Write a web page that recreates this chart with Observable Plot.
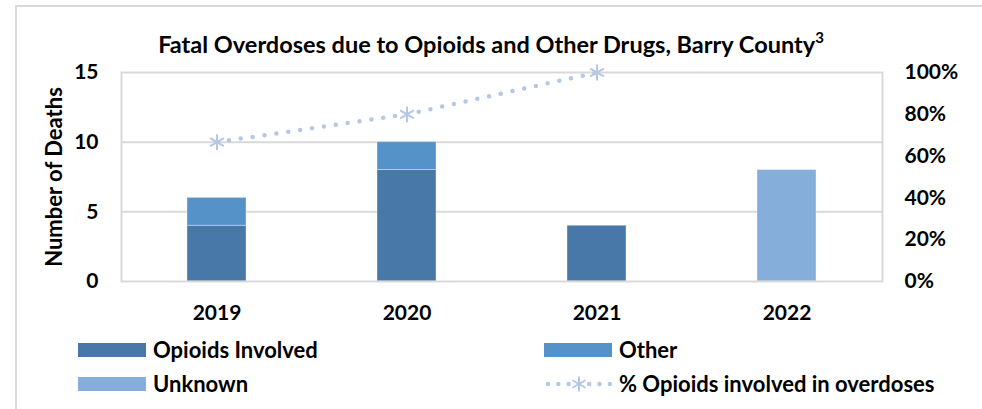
<!DOCTYPE html>
<html>
<head>
<meta charset="utf-8">
<script src="https://cdn.jsdelivr.net/npm/d3@7"></script>
<script src="https://cdn.jsdelivr.net/npm/@observablehq/plot@0.6"></script>
<style>
  html, body { margin: 0; padding: 0; background: #fff; }
  body { width: 982px; height: 409px; overflow: hidden; position: relative; font-family: Lato, "Open Sans", sans-serif; font-weight: 700; color: #000; }
  #frame { position: absolute; left: 15px; top: 5px; width: 1000px; height: 500px; border-left: 2px solid #d9d9d9; border-top: 2px solid #d9d9d9; }
  #title { position: absolute; left: 0; width: 982px; top: 29px; text-align: center; font-size: 23.5px; line-height: 30px; }
  #title sup { font-size: 15px; vertical-align: 0; position: relative; top: -10px; }
  #chart { position: absolute; left: 0; top: 40px; }
  #ylabel { position: absolute; left: 53px; top: 177px; transform: translate(-50%, -50%) rotate(-90deg); white-space: nowrap; font-size: 22px; }
  .lg { position: absolute; font-size: 22px; line-height: 24px; white-space: nowrap; }
  .sw { position: absolute; width: 68px; height: 14px; }
</style>
</head>
<body>
<div id="frame"></div>
<div id="title">Fatal Overdoses due to Opioids and Other Drugs, Barry County<sup>3</sup></div>
<div id="ylabel">Number of Deaths</div>
<div id="chart"></div>
<div id="legend"></div>
<script>
// ---- data ----
const years = ["2019", "2020", "2021", "2022"];
const opioids = [4, 8, 4, 0];
const other = [2, 2, 0, 0];
const unknown = [0, 0, 0, 8];
const pctOpioids = [66.7, 80, 100, null];
const leftTicks = [0, 5, 10, 15];
const pctTicks = [0, 20, 40, 60, 80, 100];
const seriesNames = ["Opioids Involved", "Other", "Unknown"];
const seriesColors = ["#4878a8", "#5592c8", "#86aedb"];
const lineName = "% Opioids involved in overdoses";
const lineColor = "#b4c7e7";

const yMax = 15;
const rows = [];
years.forEach((y, i) => {
  rows.push({year: y, type: seriesNames[0], value: opioids[i]});
  rows.push({year: y, type: seriesNames[1], value: other[i]});
  rows.push({year: y, type: seriesNames[2], value: unknown[i]});
});
const pctRows = years.map((y, i) => ({year: y, pct: pctOpioids[i]})).filter(d => d.pct != null);
const toY = p => p / 100 * yMax;

const chart = Plot.plot({
  width: 982,
  height: 290,
  marginTop: 32,
  marginBottom: 49,
  marginLeft: 121,
  marginRight: 100,
  style: {fontFamily: "Lato, 'Open Sans', sans-serif", fontSize: "21px", fontWeight: 700, color: "#000", background: "transparent", overflow: "visible"},
  x: {domain: years, type: "band", paddingInner: 0.69, paddingOuter: 0.345, label: null},
  y: {domain: [0, yMax], label: null},
  color: {domain: seriesNames, range: seriesColors},
  marks: [
    Plot.ruleY([5, 10], {stroke: "#d9d9d9", strokeWidth: 2}),
    Plot.barY(rows, Plot.stackY({order: seriesNames, x: "year", y: "value", fill: "type", stroke: "#ffffff", strokeOpacity: 0.35, strokeWidth: 1})),
    Plot.frame({stroke: "#d9d9d9", strokeWidth: 2}),
    Plot.line(pctRows, {x: "year", y: d => toY(d.pct), stroke: lineColor, strokeWidth: 4.5, strokeDasharray: "0 12", strokeLinecap: "round"}),
    Plot.dot(pctRows, {x: "year", y: d => toY(d.pct), symbol: "asterisk", r: 7.5, stroke: lineColor, strokeWidth: 2}),
    Plot.axisY({anchor: "left", ticks: leftTicks, tickSize: 0, tickPadding: 23, label: null, fill: "#000"}),
    Plot.axisY({anchor: "right", ticks: pctTicks.map(toY), tickFormat: d => Math.round(d / yMax * 100) + "%", tickSize: 0, tickPadding: 22, label: null, fill: "#000"}),
    Plot.axisX({anchor: "bottom", tickSize: 0, tickPadding: 24, label: null, fill: "#000"})
  ]
});
document.getElementById("chart").appendChild(chart);

// ---- legend ----
const legend = document.getElementById("legend");
const items = [
  {kind: "bar", name: seriesNames[0], color: seriesColors[0], x: 78, y: 343},
  {kind: "bar", name: seriesNames[1], color: seriesColors[1], x: 544, y: 343},
  {kind: "bar", name: seriesNames[2], color: seriesColors[2], x: 78, y: 377},
  {kind: "line", name: lineName, color: lineColor, x: 544, y: 377}
];
items.forEach(it => {
  if (it.kind === "bar") {
    const s = document.createElement("div");
    s.className = "sw";
    s.style.left = it.x + "px"; s.style.top = it.y + "px"; s.style.background = it.color;
    legend.appendChild(s);
  } else {
    const ns = "http://www.w3.org/2000/svg";
    const svg = document.createElementNS(ns, "svg");
    svg.setAttribute("width", 70); svg.setAttribute("height", 20);
    svg.style.position = "absolute"; svg.style.left = it.x + "px"; svg.style.top = (it.y - 3) + "px";
    const l = document.createElementNS(ns, "line");
    l.setAttribute("x1", 4); l.setAttribute("x2", 66); l.setAttribute("y1", 10); l.setAttribute("y2", 10);
    l.setAttribute("stroke", it.color); l.setAttribute("stroke-width", 4.5);
    l.setAttribute("stroke-dasharray", "0 10.3"); l.setAttribute("stroke-linecap", "round");
    svg.appendChild(l);
    const g = document.createElementNS(ns, "path");
    const r = 7.5, c = 35, cy = 10;
    let d = "";
    for (let k = 0; k < 3; k++) {
      const a = Math.PI / 2 + k * Math.PI / 3;
      d += `M${c + r * Math.cos(a)},${cy + r * Math.sin(a)}L${c - r * Math.cos(a)},${cy - r * Math.sin(a)}`;
    }
    g.setAttribute("d", d); g.setAttribute("stroke", it.color); g.setAttribute("stroke-width", 2);
    svg.appendChild(g);
    legend.appendChild(svg);
  }
  const t = document.createElement("div");
  t.className = "lg";
  t.textContent = it.name;
  t.style.left = (it.x + 75) + "px";
  t.style.top = (it.y + 7 - 12) + "px";
  legend.appendChild(t);
});
</script>
</body>
</html>
